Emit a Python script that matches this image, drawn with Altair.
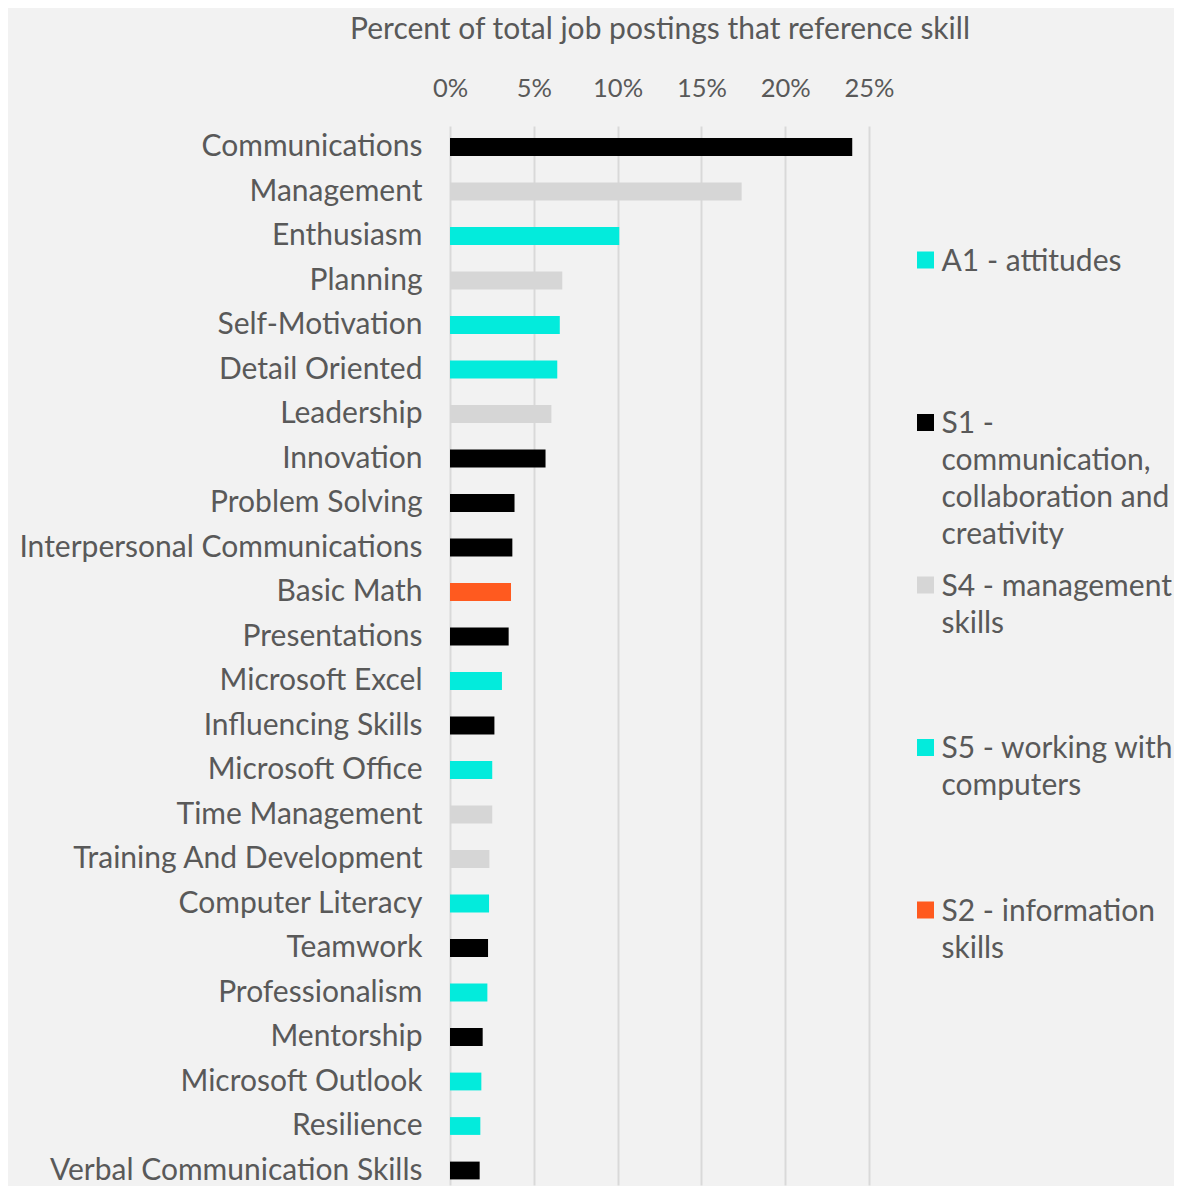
import altair as alt
import pandas as pd

# ---- data ----
skills = [
    "Communications", "Management", "Enthusiasm", "Planning", "Self-Motivation",
    "Detail Oriented", "Leadership", "Innovation", "Problem Solving",
    "Interpersonal Communications", "Basic Math", "Presentations", "Microsoft Excel",
    "Influencing Skills", "Microsoft Office", "Time Management",
    "Training And Development", "Computer Literacy", "Teamwork", "Professionalism",
    "Mentorship", "Microsoft Outlook", "Resilience", "Verbal Communication Skills",
]
percents = [
    24.0, 17.4, 10.1, 6.7, 6.55,
    6.4, 6.05, 5.7, 3.85,
    3.72, 3.64, 3.5, 3.1,
    2.65, 2.52, 2.52,
    2.35, 2.33, 2.27, 2.23,
    1.95, 1.87, 1.81, 1.77,
]
groups = [
    "S1", "S4", "A1", "S4", "A1",
    "A1", "S4", "S1", "S1",
    "S1", "S2", "S1", "S5",
    "S1", "S5", "S4",
    "S4", "S5", "S1", "A1",
    "S1", "S5", "A1", "S1",
]
x_ticks = [0, 5, 10, 15, 20, 25]

legend_keys = ["A1", "S1", "S4", "S5", "S2"]
legend_labels = [
    "A1 - attitudes",
    "S1 -\ncommunication,\ncollaboration and\ncreativity",
    "S4 - management\nskills",
    "S5 - working with\ncomputers",
    "S2 - information\nskills",
]
legend_colors = ["#03EBDC", "#000000", "#D6D6D6", "#03EBDC", "#FF5A1F"]
legend_order = [0, 1, 2, 3, 4]

FONT = "Lato"
TXT = "#595959"

df = pd.DataFrame({"skill": skills, "pct": percents, "group": groups})
leg = pd.DataFrame({"key": legend_keys, "label": legend_labels, "order": legend_order})

color_scale = alt.Scale(domain=legend_keys, range=legend_colors)

bars = alt.Chart(df).mark_bar().encode(
    x=alt.X(
        "pct:Q",
        scale=alt.Scale(domain=[0, 25], nice=False, zero=True),
        axis=alt.Axis(
            orient="top",
            values=x_ticks,
            labelExpr="datum.value + '%'",
            labelFlush=False,
            title="Percent of total job postings that reference skill",
            titleFont=FONT, titleFontSize=30, titleFontWeight="normal", titleColor=TXT,
            titlePadding=32,
            labelFont=FONT, labelFontSize=25.5, labelColor=TXT, labelPadding=24.5,
            domain=False, ticks=False,
            grid=True, gridColor="#D9D9D9", gridWidth=2,
        ),
    ),
    y=alt.Y(
        "skill:N",
        sort=skills,
        scale=alt.Scale(paddingInner=0.6, paddingOuter=0.199, align=0.684),
        axis=alt.Axis(
            title=None, ticks=False, domain=False,
            labelFont=FONT, labelFontSize=30, labelColor=TXT, labelPadding=28,
            labelLimit=600,
        ),
    ),
    color=alt.Color("group:N", scale=color_scale, legend=None),
).properties(width=419, height=1059)

leg_base = alt.Chart(leg).encode(
    y=alt.Y(
        "order:Q",
        scale=alt.Scale(domain=[-0.8246, 5.6923], reverse=True, nice=False, zero=False),
        axis=None,
    ),
)
leg_sym = leg_base.mark_square(size=289, opacity=1).encode(
    x=alt.value(8.5),
    color=alt.Color("key:N", scale=color_scale, legend=None),
)
leg_txt = leg_base.mark_text(
    align="left", baseline="top", lineBreak="\n", font=FONT, fontSize=30,
    lineHeight=37, color=TXT, dy=-13,
).encode(x=alt.value(24.5), text="label:N")

legend_chart = alt.layer(leg_sym, leg_txt).properties(width=256, height=1059)

chart = alt.hconcat(
    bars, legend_chart, spacing=48, bounds="flush",
    padding={"left": 10, "top": 6, "right": 0, "bottom": 0},
).configure(background="#F2F2F2").configure_view(stroke=None)

chart.save("out.html", embed_options={"renderer": "svg", "actions": False})
